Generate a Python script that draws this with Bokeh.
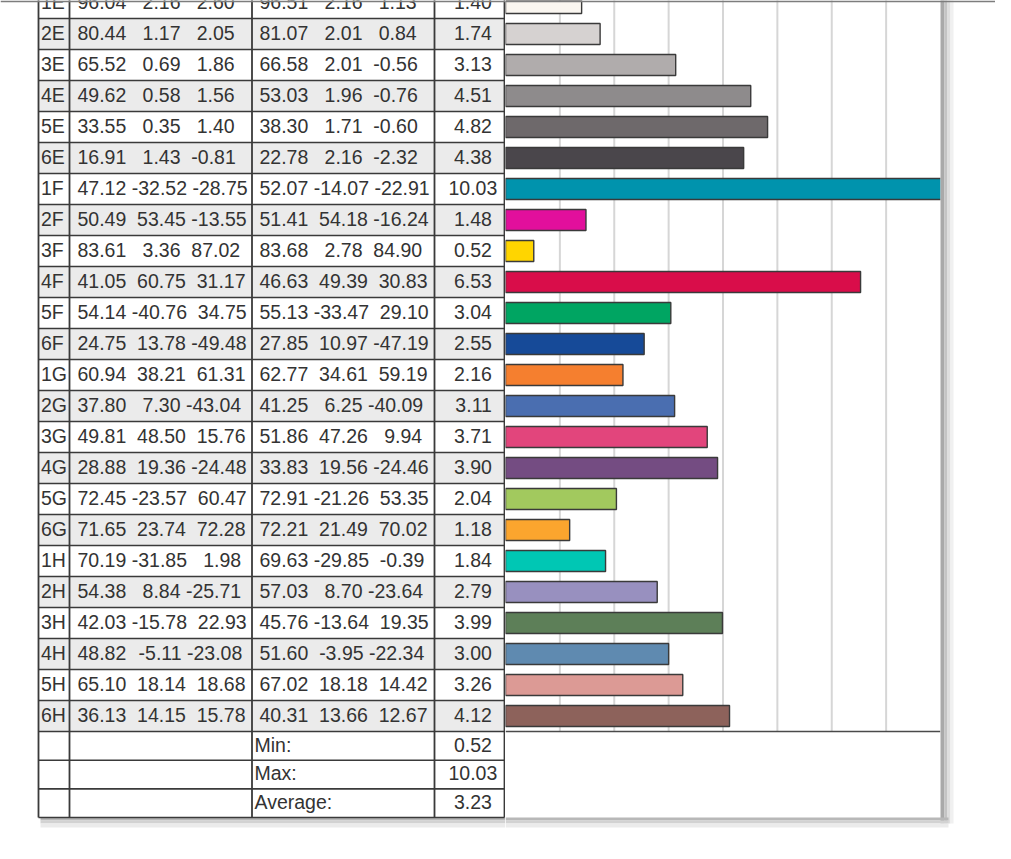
from bokeh.plotting import figure
from bokeh.models import Range1d
from bokeh.layouts import row
from bokeh.embed import file_html
from bokeh.resources import INLINE
from bokeh.core.properties import value

# ---------------- data ----------------
labels = ["1E", "2E", "3E", "4E", "5E", "6E",
          "1F", "2F", "3F", "4F", "5F", "6F",
          "1G", "2G", "3G", "4G", "5G", "6G",
          "1H", "2H", "3H", "4H", "5H", "6H"]
ref_L = [96.04, 80.44, 65.52, 49.62, 33.55, 16.91, 47.12, 50.49, 83.61, 41.05, 54.14, 24.75,
         60.94, 37.80, 49.81, 28.88, 72.45, 71.65, 70.19, 54.38, 42.03, 48.82, 65.10, 36.13]
ref_a = [2.16, 1.17, 0.69, 0.58, 0.35, 1.43, -32.52, 53.45, 3.36, 60.75, -40.76, 13.78,
         38.21, 7.30, 48.50, 19.36, -23.57, 23.74, -31.85, 8.84, -15.78, -5.11, 18.14, 14.15]
ref_b = [2.60, 2.05, 1.86, 1.56, 1.40, -0.81, -28.75, -13.55, 87.02, 31.17, 34.75, -49.48,
         61.31, -43.04, 15.76, -24.48, 60.47, 72.28, 1.98, -25.71, 22.93, -23.08, 18.68, 15.78]
meas_L = [96.51, 81.07, 66.58, 53.03, 38.30, 22.78, 52.07, 51.41, 83.68, 46.63, 55.13, 27.85,
          62.77, 41.25, 51.86, 33.83, 72.91, 72.21, 69.63, 57.03, 45.76, 51.60, 67.02, 40.31]
meas_a = [2.16, 2.01, 2.01, 1.96, 1.71, 2.16, -14.07, 54.18, 2.78, 49.39, -33.47, 10.97,
          34.61, 6.25, 47.26, 19.56, -21.26, 21.49, -29.85, 8.70, -13.64, -3.95, 18.18, 13.66]
meas_b = [1.13, 0.84, -0.56, -0.76, -0.60, -2.32, -22.91, -16.24, 84.90, 30.83, 29.10, -47.19,
          59.19, -40.09, 9.94, -24.46, 53.35, 70.02, -0.39, -23.64, 19.35, -22.34, 14.42, 12.67]
delta_e = [1.40, 1.74, 3.13, 4.51, 4.82, 4.38, 10.03, 1.48, 0.52, 6.53, 3.04, 2.55,
           2.16, 3.11, 3.71, 3.90, 2.04, 1.18, 1.84, 2.79, 3.99, 3.00, 3.26, 4.12]
bar_colors = ["#faf6f0", "#d6d2d1", "#b0acac", "#8e8b8c", "#6e696b", "#4a464b",
              "#0093ad", "#e20f9c", "#ffd500", "#d90d4a", "#00a562", "#164a98",
              "#f57f2f", "#4a6eb0", "#e2457c", "#744c82", "#a2c95e", "#fba52e",
              "#00c7b4", "#9890bf", "#5d7f58", "#5f8ab0", "#dc9a95", "#8d625b"]
summary_labels = ["Min:", "Max:", "Average:"]
summary_values = [0.52, 10.03, 3.23]
grid_ticks = [1, 2, 3, 4, 5, 6, 7]
x_max = 8

# ---------------- layout (picture px) ----------------
ROW0, ROW_H = -13.0, 31.0
FRAME_TOP, FRAME_BOT = 0.0, 843.0
def u(px):  # picture y -> row units
    return (px - ROW0) / ROW_H

y_range = Range1d(start=u(FRAME_BOT), end=u(FRAME_TOP))
n = len(labels)
SUM_H = 0.925
sum_tops = [n + k * SUM_H for k in range(len(summary_labels))]
table_bottom = n + len(summary_labels) * SUM_H

FONT = value("Liberation Sans")
FS = 19.5
TXT = "#333333"
LINE = "#3a3a3a"
TEXT_OFF = 14.5  # baseline offset below row top (px)

W = {".": 0.278, " ": 0.278, "-": 0.333}
def tw(s):
    return sum(W.get(c, 0.556) for c in s) * FS

def fields_right(x0, fields):
    """right edges of each field when the fields are joined by single spaces"""
    out, prefix = [], ""
    for k, f in enumerate(fields):
        prefix = prefix + (" " if k else "") + f
        out.append(x0 + tw(prefix))
    return out

COLS = [38, 69, 251.5, 434, 504]

# ---------------- table figure ----------------
pa = figure(width=505, height=843, x_range=Range1d(0, 505), y_range=y_range,
            output_backend="svg", toolbar_location=None, min_border=0,
            x_axis_location=None, y_axis_location=None, outline_line_color=None)
pa.grid.visible = False

# shadow below table
for (t, b, c) in [(817, 820, "#b8b8b8"), (820, 823, "#d2d2d2"), (823, 827, "#ebebeb")]:
    pa.quad(left=40, right=505, top=u(t), bottom=u(b), fill_color=c, line_color=None)
pa.quad(left=38, right=504, top=-1, bottom=table_bottom, fill_color="white", line_color=None)

# alternating row fill
grey_rows = [i for i in range(n) if i % 2 == 1]
pa.quad(left=[COLS[0]] * len(grey_rows), right=[COLS[-1]] * len(grey_rows),
        top=grey_rows, bottom=[i + 1 for i in grey_rows], fill_color="#ebebeb", line_color=None)

# grid of the table
hl = list(range(n + 1)) + sum_tops[1:] + [table_bottom]
pa.segment(x0=COLS[0], x1=COLS[-1], y0=hl, y1=hl, line_color=LINE, line_width=1.6)
pa.segment(x0=COLS, x1=COLS, y0=-1, y1=table_bottom, line_color=LINE, line_width=1.8)

# texts
tx, ty, tt = [], [], []
lx, ly, lt = [], [], []
for i in range(n):
    base = i + TEXT_OFF / ROW_H
    lx.append(40.5); ly.append(base); lt.append(labels[i])
    for x0, vals in ((77, (ref_L[i], ref_a[i], ref_b[i])), (259, (meas_L[i], meas_a[i], meas_b[i]))):
        f = [f"{vals[0]:5.2f}", f"{vals[1]:6.2f}", f"{vals[2]:6.2f}"]
        for xr, s in zip(fields_right(x0, f), f):
            tx.append(xr); ty.append(base); tt.append(s.strip())
    s = f"{delta_e[i]:5.2f}"
    tx.append(448 + tw(s)); ty.append(base); tt.append(s.strip())
for k, (lab, v) in enumerate(zip(summary_labels, summary_values)):
    base = sum_tops[k] + (TEXT_OFF - 1.5) / ROW_H
    lx.append(254); ly.append(base); lt.append(lab)
    s = f"{v:5.2f}"
    tx.append(448 + tw(s)); ty.append(base); tt.append(s.strip())

pa.text(x=tx, y=ty, text=tt, text_align="right", text_baseline="alphabetic",
        text_font=FONT, text_font_size=f"{FS}px", text_color=TXT)
pa.text(x=lx, y=ly, text=lt, text_align="left", text_baseline="alphabetic",
        text_font=FONT, text_font_size=f"{FS}px", text_color=TXT)
# page top edge line
pa.quad(left=0, right=505, top=u(0), bottom=u(1.8), fill_color="#7d7d7d", line_color=None)

# ---------------- bar figure ----------------
PX_PER_UNIT = 435 / x_max
BW = 490
x_end = BW / PX_PER_UNIT
pb = figure(width=BW, height=843, x_range=Range1d(0, x_end), y_range=y_range,
            output_backend="svg", toolbar_location=None, min_border=0,
            x_axis_location=None, y_axis_location=None, outline_line_color=None)
pb.grid.visible = False

def ux(px):  # picture x -> value units in bar figure
    return (px - 505) / PX_PER_UNIT

pb.segment(x0=grid_ticks, x1=grid_ticks, y0=-1, y1=n, line_color="#d6d6d6", line_width=2)
pb.hbar(y=[i + 0.5 for i in range(n)], left=0, right=delta_e, height=21 / ROW_H,
        fill_color=bar_colors, line_color=LINE, line_width=1.4)
pb.segment(x0=0, x1=x_max, y0=n, y1=n, line_color="#4a4a4a", line_width=1.6)
# area right of the scale
pb.quad(left=x_max, right=x_end, top=-1, bottom=u(FRAME_BOT), fill_color="white", line_color=None)
# box shadows
for (l, r, c) in [(940, 944, "#a9a9a9"), (944, 947, "#c4c4c4"), (947, 950, "#dedede"), (950, 953, "#f0f0f0")]:
    pb.quad(left=ux(l), right=ux(r), top=-1, bottom=u(823), fill_color=c, line_color=None)
for (t, b, c) in [(817, 820, "#b8b8b8"), (820, 823, "#d2d2d2"), (823, 827, "#ebebeb")]:
    pb.quad(left=0, right=ux(948), top=u(t), bottom=u(b), fill_color=c, line_color=None)
pb.quad(left=0, right=x_end, top=u(0), bottom=u(1.8), fill_color="#7d7d7d", line_color=None)

layout = row(pa, pb, spacing=0)
open("out.html", "w").write(file_html(layout, INLINE))
